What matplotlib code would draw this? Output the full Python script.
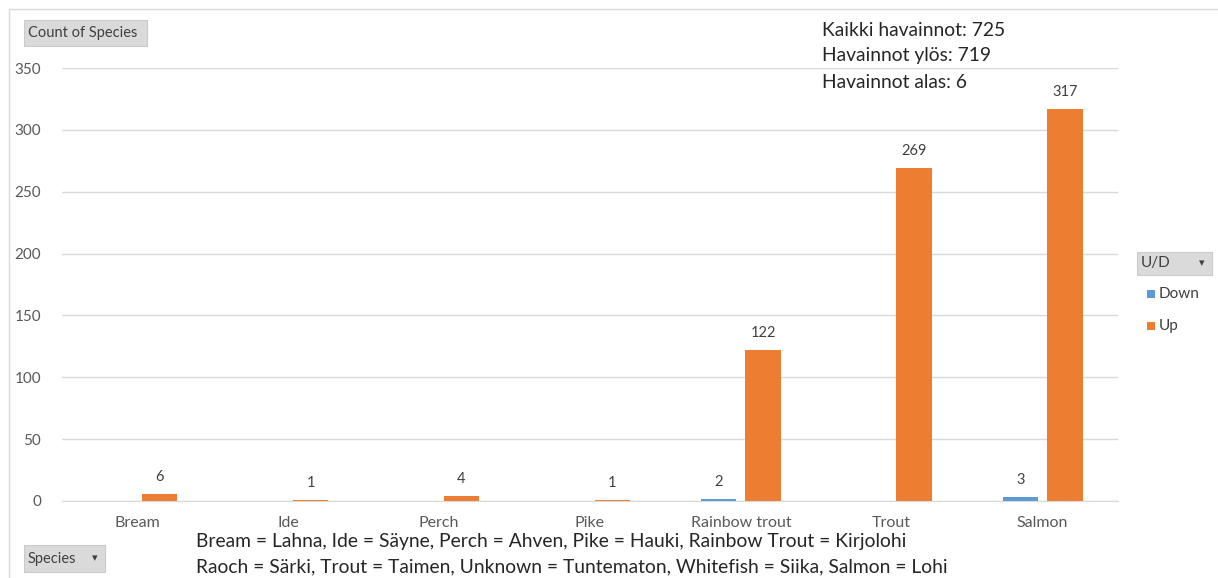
import matplotlib
matplotlib.use("Agg")
import matplotlib.pyplot as plt
from matplotlib.patches import Rectangle
import numpy as np

categories = ["Bream", "Ide", "Perch", "Pike", "Rainbow trout", "Trout", "Salmon"]
down_values = [np.nan, np.nan, np.nan, np.nan, 2, np.nan, 3]
up_values = [6, 1, 4, 1, 122, 269, 317]
y_ticks = [0, 50, 100, 150, 200, 250, 300, 350]
summary_lines = ["Kaikki havainnot: 725", "Havainnot ylös: 719", "Havainnot alas: 6"]
footnote_lines = ["Bream = Lahna, Ide = Säyne, Perch = Ahven, Pike = Hauki, Rainbow Trout = Kirjolohi",
                  "Raoch = Särki, Trout = Taimen, Unknown = Tuntematon, Whitefish = Siika, Salmon = Lohi"]

plt.rcParams['font.family'] = ['Lato', 'DejaVu Sans']

W, H = 1218, 578
fig = plt.figure(figsize=(W / 100, H / 100), dpi=100)
fig.patch.set_facecolor("white")

def fx(px):
    return px / W

def fy(py):
    return 1 - py / H

# chart border
fig.patches.append(Rectangle((fx(9), fy(600)), fx(1300), fy(9) - fy(600), transform=fig.transFigure,
                             fill=False, edgecolor="#D9D9D9", linewidth=1.0))

ax = fig.add_axes([fx(62), fy(501), fx(1118) - fx(62), fy(68) - fy(501)])
x = np.arange(len(categories))
w = 0.235
off = 0.148
blue = "#5B9BD5"
orange = "#ED7D31"
ax.bar(x - off, down_values, w, color=blue, label="Down")
ax.bar(x + off, up_values, w, color=orange, label="Up")

for xi, v in zip(x, down_values):
    if not np.isnan(v):
        ax.text(xi - off, v + 8, f"{int(v)}", ha="center", va="bottom", fontsize=10.5, color="#404040")
for xi, v in zip(x, up_values):
    ax.text(xi + off, v + 8, f"{int(v)}", ha="center", va="bottom", fontsize=10.5, color="#404040")

ax.set_xlim(-0.5, len(categories) - 0.5)
ax.set_ylim(0, 350)
ax.set_yticks(y_ticks)
ax.set_xticks(x)
ax.set_xticklabels(categories, fontsize=11.5)
ax.grid(axis="y", color="#D9D9D9", linewidth=1.0)
ax.set_axisbelow(True)
for s in ["top", "right", "left"]:
    ax.spines[s].set_visible(False)
ax.spines["bottom"].set_color("#D9D9D9")
ax.tick_params(axis="both", length=0, colors="#595959")
ax.tick_params(axis="y", pad=15, labelsize=11)
ax.tick_params(axis="x", pad=11)

# buttons
def button(x0, y0, x1, y1, text, arrow=False, fs=10):
    fig.patches.append(Rectangle((fx(x0), fy(y1)), fx(x1) - fx(x0), fy(y0) - fy(y1),
                                 transform=fig.transFigure, facecolor="#DADADA",
                                 edgecolor="#CACACA", linewidth=0.8))
    fig.text(fx(x0 + 4), fy((y0 + y1) / 2), text, ha="left", va="center", fontsize=fs, color="#404040")
    if arrow:
        fig.text(fx(x1 - 10), fy((y0 + y1) / 2), "▾", ha="center", va="center", fontsize=8,
                 color="#404040", family="DejaVu Sans")

button(24, 20, 147, 46, "Count of Species", fs=10.5)
button(24, 545, 105, 572, "Species", arrow=True, fs=10.5)
button(1137, 252, 1212, 275, "U/D", arrow=True, fs=11)

# legend
fig.patches.append(Rectangle((fx(1147), fy(298)), fx(8), fy(290) - fy(298), transform=fig.transFigure,
                             facecolor=blue, edgecolor="none"))
fig.text(fx(1159), fy(294), "Down", ha="left", va="center", fontsize=11, color="#404040")
fig.patches.append(Rectangle((fx(1147), fy(330)), fx(8), fy(322) - fy(330), transform=fig.transFigure,
                             facecolor=orange, edgecolor="none"))
fig.text(fx(1159), fy(326), "Up", ha="left", va="center", fontsize=11, color="#404040")

# summary
for i, line in enumerate(summary_lines):
    fig.text(fx(822), fy(30 + 26 * i), line, ha="left", va="center", fontsize=13.9, color="#262626")

# footnote
for i, line in enumerate(footnote_lines):
    fig.text(fx(196), fy(541 + 26 * i), line, ha="left", va="center", fontsize=13.9, color="#262626")

fig.savefig("out.png", dpi=100)
